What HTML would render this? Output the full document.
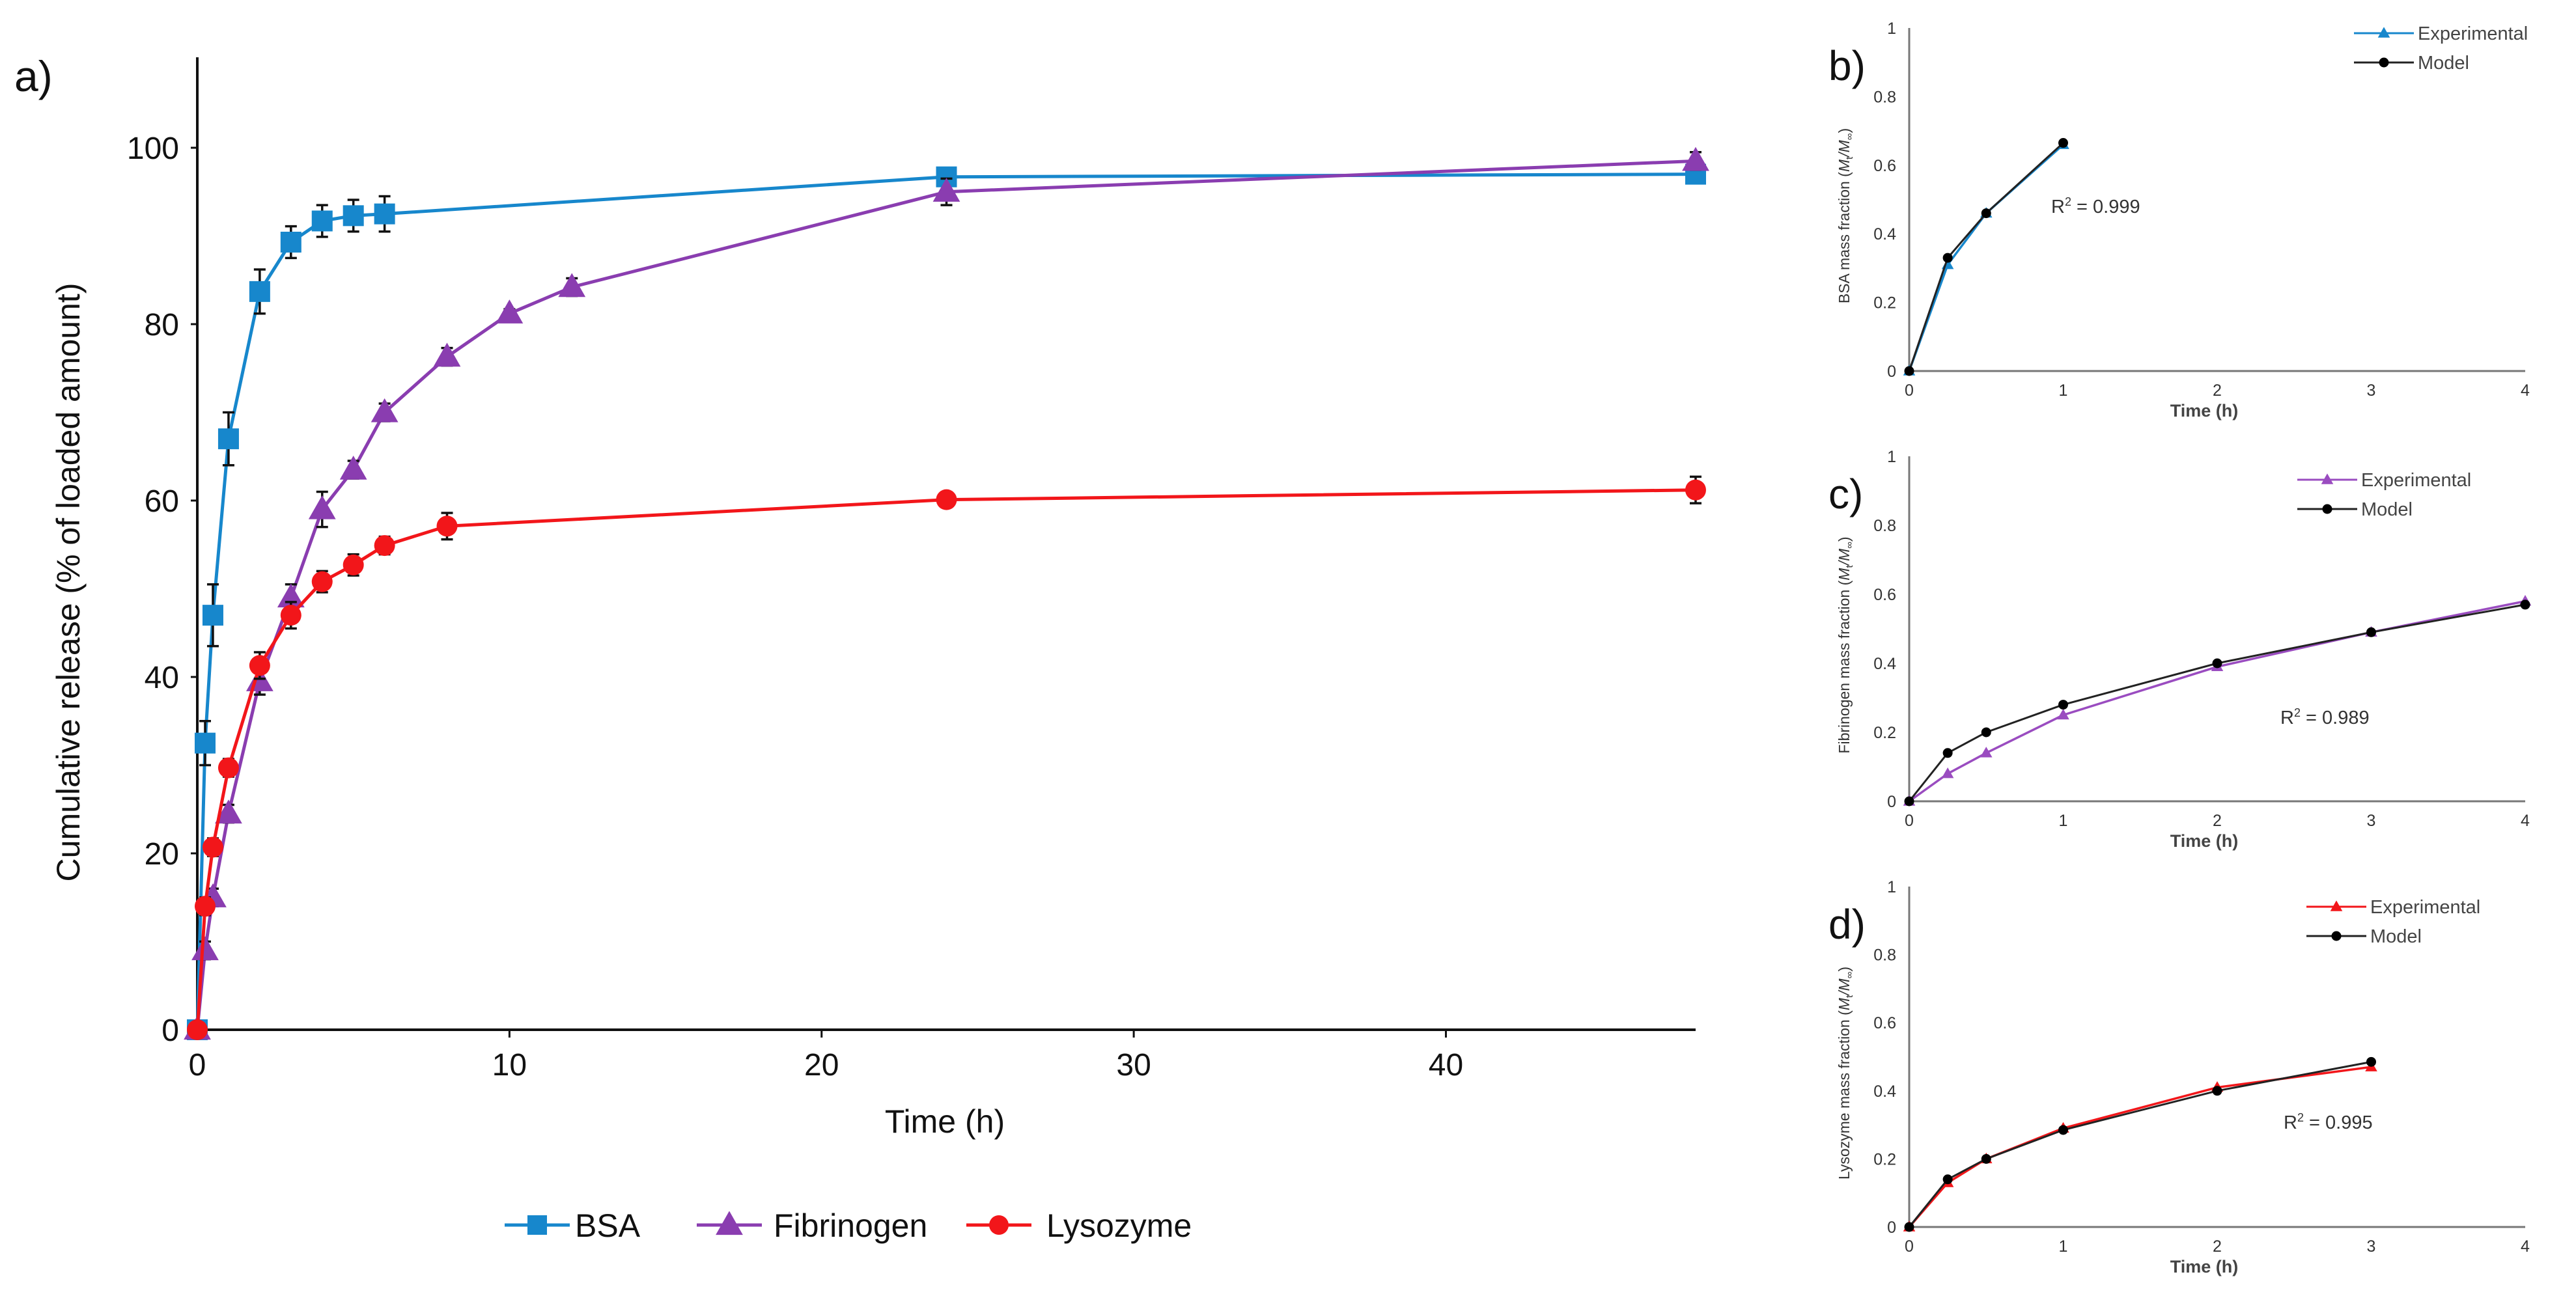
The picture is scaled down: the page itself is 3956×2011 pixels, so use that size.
<!DOCTYPE html>
<html><head><meta charset="utf-8"><style>
html,body{margin:0;padding:0;background:#fff;}
svg{display:block;font-family:"Liberation Sans",sans-serif;}
</style></head><body>
<svg id="fig" width="3956" height="2011" viewBox="0 0 3956 2011"></svg>
<script>
// Main chart data
const bsaT=[0,0.25,0.5,1,2,3,4,5,6,24,48];
const bsaV=[0,32.5,47,67,83.7,89.3,91.7,92.3,92.5,96.7,97];
const bsaE=[0,2.5,3.5,3,2.5,1.8,1.8,1.8,2,1,1];
const fibT=[0,0.25,0.5,1,2,3,4,5,6,8,10,12,24,48];
const fibV=[0,9,15,24.5,39.5,49,59,63.5,70,76.3,81.2,84.2,95,98.5];
const fibE=[0,1,1,1,1.5,1.5,2,1,1,1,0.5,1,1.5,1];
const lysT=[0,0.25,0.5,1,2,3,4,5,6,8,24,48];
const lysV=[0,14,20.7,29.7,41.3,47,50.8,52.7,54.9,57.1,60.1,61.2];
const lysE=[0,1,1,1,1.5,1.5,1.2,1.2,1,1.5,0.5,1.5];
const mainXTicks=[0,10,20,30,40];
const mainYTicks=[0,20,40,60,80,100];
// Small charts data
const bT=[0,0.25,0.5,1];
const bExp=[0,0.31,0.46,0.66];
const bMod=[0,0.33,0.46,0.665];
const cT=[0,0.25,0.5,1,2,3,4];
const cExp=[0,0.08,0.14,0.25,0.39,0.49,0.58];
const cMod=[0,0.14,0.2,0.28,0.4,0.49,0.57];
const dT=[0,0.25,0.5,1,2,3];
const dExp=[0,0.13,0.2,0.29,0.41,0.47];
const dMod=[0,0.14,0.2,0.285,0.4,0.485];
const smallXTicks=[0,1,2,3,4];
const smallYTicks=[0,0.2,0.4,0.6,0.8,1];

const NS="http://www.w3.org/2000/svg";
const svg=document.getElementById('fig');
function el(tag,attrs,parent,text){const e=document.createElementNS(NS,tag);for(const k in attrs)e.setAttribute(k,attrs[k]);if(text!==undefined)e.textContent=text;(parent||svg).appendChild(e);return e;}
function fmt(v){return (Math.round(v*10)/10).toString();}

function marker(g,shape,x,y,s,color){
  let m;
  if(shape==='square') m=el('rect',{x:x-s/2,y:y-s/2,width:s,height:s,fill:color},g);
  else if(shape==='circle') m=el('circle',{cx:x,cy:y,r:s/2,fill:color},g);
  else m=el('polygon',{points:`${x},${y-s*0.6} ${x-s*0.58},${y+s*0.42} ${x+s*0.58},${y+s*0.42}`,fill:color},g);
  
  
}

// ===== Main chart =====
const MX0=303,MX1=2604,MY0=1582,MY1=227;
const mx=t=>MX0+(MX1-MX0)*t/48;
const my=v=>MY0-(MY0-MY1)*v/100;
const main=el('g',{});


let t=el('text',{x:22,y:140,'font-size':66,fill:'#111'},main,'a)');

let a=el('line',{x1:MX0,y1:88,x2:MX0,y2:MY0,stroke:'#111','stroke-width':4},main);

a=el('line',{x1:MX0,y1:MY0,x2:MX1,y2:MY0,stroke:'#111','stroke-width':4},main);

mainYTicks.forEach(v=>{
  el('line',{x1:MX0-10,y1:my(v),x2:MX0,y2:my(v),stroke:'#111','stroke-width':3},main);
  const tl=el('text',{x:MX0-28,y:my(v)+17,'font-size':48,'text-anchor':'end',fill:'#111'},main,v);
  
});
mainXTicks.forEach(v=>{
  el('line',{x1:mx(v),y1:MY0,x2:mx(v),y2:MY0+12,stroke:'#111','stroke-width':3},main);
  const tl=el('text',{x:mx(v),y:MY0+70,'font-size':48,'text-anchor':'middle',fill:'#111'},main,v);
  
});
t=el('text',{x:0,y:0,'font-size':50,'text-anchor':'middle',fill:'#111',transform:`translate(122,${(MY0+MY1)/2-10}) rotate(-90)`},main,'Cumulative release (% of loaded amount)');

t=el('text',{x:1451,y:1740,'font-size':50,'text-anchor':'middle',fill:'#111'},main,'Time (h)');


function mainSeries(name,T,V,E,color,shape,size){
  const g=el('g',{},main);
  
  
  const ln=el('polyline',{points:T.map((x,i)=>mx(x)+','+my(V[i])).join(' '),fill:'none',stroke:color,'stroke-width':5},g);
  
  T.forEach((x,i)=>{
    if(E[i]>0){
      const X=mx(x),ya=my(V[i]+E[i]),yb=my(V[i]-E[i]);
      const eb=el('path',{d:`M${X},${ya}V${yb}M${X-9},${ya}H${X+9}M${X-9},${yb}H${X+9}`,stroke:'#111','stroke-width':3.5,fill:'none'},g);
      
    }
  });
  T.forEach((x,i)=>marker(g,shape,mx(x),my(V[i]),size,color));
}
mainSeries('bsa',bsaT,bsaV,bsaE,'#1787cc','square',32);
mainSeries('fibrinogen',fibT,fibV,fibE,'#8a3db0','triangle',36);
mainSeries('lysozyme',lysT,lysV,lysE,'#f2161a','circle',32);

// legend
const legend=el('g',{},main);

[['BSA','#1787cc','square',775,883],['Fibrinogen','#8a3db0','triangle',1070,1188],['Lysozyme','#f2161a','circle',1484,1607]].forEach(([lab,c,sh,x0,tx])=>{
  const g=el('g',{},legend);
  
  el('line',{x1:x0,y1:1882,x2:x0+100,y2:1882,stroke:c,'stroke-width':5},g);
  marker(g,sh,x0+50,1882,sh==='triangle'?36:30,c);
  el('text',{x:tx,y:1900,'font-size':50,fill:'#111'},g,lab);
});

// ===== Small charts =====
function smallChart(name,label,y0,y1,T,E,M,color,ytitle,r2pos,legY,legX){
  const X0=2932,X1=3878;
  const sx=v=>X0+(X1-X0)*v/4;
  const sy=v=>y0-(y0-y1)*v;
  const g=el('g',{});
  
  let tt=el('text',{x:2808,y:y1+80,'font-size':64,fill:'#111'},g,label);
  
  let ax=el('line',{x1:X0,y1:y1,x2:X0,y2:y0,stroke:'#777','stroke-width':3},g);
  
  ax=el('line',{x1:X0,y1:y0,x2:X1,y2:y0,stroke:'#777','stroke-width':3},g);
  
  smallYTicks.forEach(v=>{
    const tl=el('text',{x:X0-20,y:sy(v)+9,'font-size':25,'text-anchor':'end',fill:'#333'},g,fmt(v));
    
  });
  smallXTicks.forEach(v=>{
    const tl=el('text',{x:sx(v),y:y0+38,'font-size':25,'text-anchor':'middle',fill:'#333'},g,v);
    
  });
  tt=el('text',{x:(X0+X1)/2-20,y:y0+70,'font-size':27,'font-weight':'bold','text-anchor':'middle',fill:'#444'},g,'Time (h)');
  
  tt=el('text',{x:0,y:0,'font-size':23,'text-anchor':'middle',fill:'#333',transform:`translate(2840,${(y0+y1)/2+25}) rotate(-90)`},g);
  
  el('tspan',{},tt,ytitle+' (');
  el('tspan',{'font-style':'italic'},tt,'M');
  el('tspan',{'font-size':15,dy:5},tt,'t');
  el('tspan',{dy:-5,'font-style':'italic'},tt,'/M');
  el('tspan',{'font-size':15,dy:5},tt,'∞');
  el('tspan',{dy:-5},tt,')');
  const ge=el('g',{},g);
  el('polyline',{points:T.map((x,i)=>sx(x)+','+sy(E[i])).join(' '),fill:'none',stroke:color,'stroke-width':3.5},ge);
  T.forEach((x,i)=>marker(ge,'triangle',sx(x),sy(E[i]),16,color));
  const gm=el('g',{},g);
  el('polyline',{points:T.map((x,i)=>sx(x)+','+sy(M[i])).join(' '),fill:'none',stroke:'#222','stroke-width':3},gm);
  T.forEach((x,i)=>marker(gm,'circle',sx(x),sy(M[i]),15,'#000'));
  tt=el('text',{x:r2pos[0],y:r2pos[1],'font-size':29,fill:'#333'},g);
  
  el('tspan',{},tt,'R');el('tspan',{'font-size':18,dy:-11},tt,'2');el('tspan',{dy:11},tt,r2pos[2]);
  const lg=el('g',{},g);
  el('line',{x1:legX,y1:legY,x2:legX+92,y2:legY,stroke:color,'stroke-width':3},lg);
  marker(lg,'triangle',legX+46,legY,16,color);
  el('text',{x:legX+98,y:legY+10,'font-size':29,fill:'#444'},lg,'Experimental');
  el('line',{x1:legX,y1:legY+45,x2:legX+92,y2:legY+45,stroke:'#222','stroke-width':3},lg);
  marker(lg,'circle',legX+46,legY+45,15,'#000');
  el('text',{x:legX+98,y:legY+55,'font-size':29,fill:'#444'},lg,'Model');
}
smallChart('bsa-fit','b)',570,43,bT,bExp,bMod,'#1787cc','BSA mass fraction',[3150,327,' = 0.999'],51,3615);
smallChart('fibrinogen-fit','c)',1231,701,cT,cExp,cMod,'#9a4cc0','Fibrinogen mass fraction',[3502,1112,' = 0.989'],737,3528);
smallChart('lysozyme-fit','d)',1885,1362,dT,dExp,dMod,'#f2161a','Lysozyme mass fraction',[3507,1734,' = 0.995'],1393,3542);
</script>
</body></html>
